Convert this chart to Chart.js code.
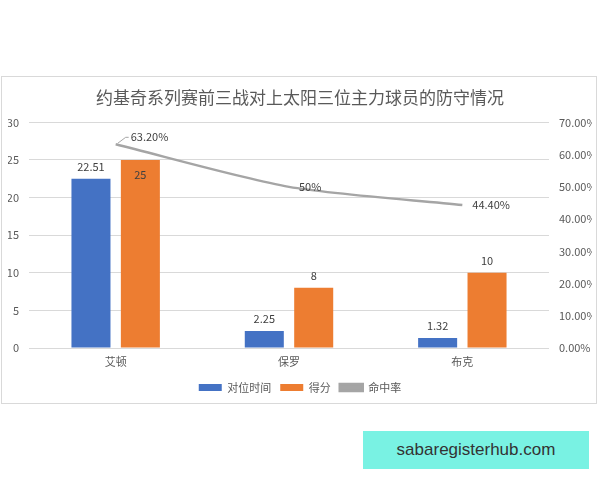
<!DOCTYPE html>
<html>
<head>
<meta charset="utf-8">
<script src="https://cdn.jsdelivr.net/npm/chart.js@4"></script>
<style>
  html, body { margin: 0; padding: 0; background: #fff; }
  body { width: 600px; height: 480px; position: relative; overflow: hidden; }
  #frame {
    position: absolute; left: 1px; top: 76px; width: 594px; height: 326px;
    border: 1px solid #d9d9d9;
  }
  #mark {
    position: absolute; left: 363px; top: 431px; width: 226px; height: 38px;
    background: #79f2e3; color: #333;
    font: 17px "Liberation Sans", Arial, sans-serif;
    line-height: 38px; text-align: center;
  }
</style>
</head>
<body>
<div id="frame"><canvas id="grafico"></canvas></div>
<div id="mark">sabaregisterhub.com</div>
<script>
const jogadores = ["艾顿", "保罗", "布克"];
const tempoMarcacao = [22.51, 2.25, 1.32];
const pontos = [25, 8, 10];
const aproveitamento = [63.2, 50, 44.4];
const rotulosAprov = ["63.20%", "50%", "44.40%"];
const ticksEsq = [0, 5, 10, 15, 20, 25, 30];
const ticksDir = [0, 10, 20, 30, 40, 50, 60, 70];

const fonte = "'Noto Sans CJK SC', 'Open Sans', sans-serif";
const cinzaTexto = "#595959";

// rotulos dos valores, desenhados a partir das posicoes dos elementos
const rotulos = {
  id: "rotulos",
  afterDatasetsDraw(chart) {
    const ctx = chart.ctx;
    const topo = chart.chartArea.top;
    ctx.save();
    ctx.font = "11px " + fonte;
    ctx.fillStyle = "#404040";
    ctx.textBaseline = "middle";

    [1, 2].forEach((i) => {
      const meta = chart.getDatasetMeta(i);
      const dados = chart.data.datasets[i].data;
      ctx.textAlign = "center";
      meta.data.forEach((bar, j) => {
        const texto = String(dados[j]);
        if (bar.y - topo < 45) {
          ctx.fillText(texto, bar.x, bar.y + 15);
        } else {
          ctx.fillText(texto, bar.x, bar.y - 12);
        }
      });
    });

    const linha = chart.getDatasetMeta(0);
    ctx.textAlign = "left";
    linha.data.forEach((p, j) => {
      if (j === 0) {
        ctx.strokeStyle = "#a5a5a5";
        ctx.lineWidth = 1;
        ctx.beginPath();
        ctx.moveTo(p.x + 2, p.y - 1);
        ctx.lineTo(p.x + 10, p.y - 7);
        ctx.lineTo(p.x + 13, p.y - 7);
        ctx.stroke();
        ctx.fillText(rotulosAprov[j], p.x + 15, p.y - 8);
      } else {
        ctx.fillText(rotulosAprov[j], p.x + 10, p.y);
      }
    });
    ctx.restore();
  },
};

new Chart(document.getElementById("grafico"), {
  data: {
    labels: jogadores,
    datasets: [
      {
        type: "line",
        label: "命中率",
        data: aproveitamento,
        yAxisID: "y1",
        borderColor: "#a5a5a5",
        backgroundColor: "#a5a5a5",
        borderWidth: 2.5,
        pointRadius: 0,
        tension: 0.25,
        order: 0,
      },
      {
        type: "bar",
        label: "对位时间",
        data: tempoMarcacao,
        yAxisID: "y",
        backgroundColor: "#4472c4",
        barPercentage: 0.79,
        categoryPercentage: 0.57,
        order: 1,
      },
      {
        type: "bar",
        label: "得分",
        data: pontos,
        yAxisID: "y",
        backgroundColor: "#ed7d31",
        barPercentage: 0.79,
        categoryPercentage: 0.57,
        order: 2,
      },
    ],
  },
  options: {
    responsive: true,
    maintainAspectRatio: false,
    animation: false,
    layout: { padding: { top: 10, left: 6, right: 4, bottom: 0 } },
    scales: {
      x: {
        afterFit: (s) => { s.height = 25; },
        grid: { display: false, drawTicks: false },
        border: { display: false },
        ticks: { color: cinzaTexto, font: { family: fonte, size: 11 }, padding: 7 },
      },
      y: {
        position: "left",
        min: 0,
        max: 30,
        afterBuildTicks: (s) => { s.ticks = ticksEsq.map((v) => ({ value: v })); },
        afterFit: (s) => { s.width = 21; },
        border: { display: false },
        grid: { color: "#d9d9d9", drawTicks: false },
        ticks: { color: cinzaTexto, font: { family: fonte, size: 11 }, padding: 10 },
      },
      y1: {
        position: "right",
        min: 0,
        max: 70,
        afterBuildTicks: (s) => { s.ticks = ticksDir.map((v) => ({ value: v })); },
        afterFit: (s) => { s.width = 43; },
        border: { display: false },
        grid: { display: false, drawTicks: false },
        ticks: {
          color: cinzaTexto,
          font: { family: fonte, size: 11 },
          padding: 10,
          callback: (v) => v.toFixed(2) + "%",
        },
      },
    },
    plugins: {
      title: {
        display: true,
        text: "约基奇系列赛前三战对上太阳三位主力球员的防守情况",
        color: cinzaTexto,
        font: { family: fonte, size: 17, weight: "normal" },
        padding: { top: 0, bottom: 15 },
      },
      legend: {
        position: "bottom",
        labels: {
          color: cinzaTexto,
          font: { family: fonte, size: 11 },
          boxWidth: 23,
          boxHeight: 7,
          padding: 9,
          sort: (a, b) => a.datasetIndex === 0 ? 1 : b.datasetIndex === 0 ? -1 : a.datasetIndex - b.datasetIndex,
        },
      },
      tooltip: { enabled: false },
    },
  },
  plugins: [rotulos],
});
</script>
</body>
</html>
